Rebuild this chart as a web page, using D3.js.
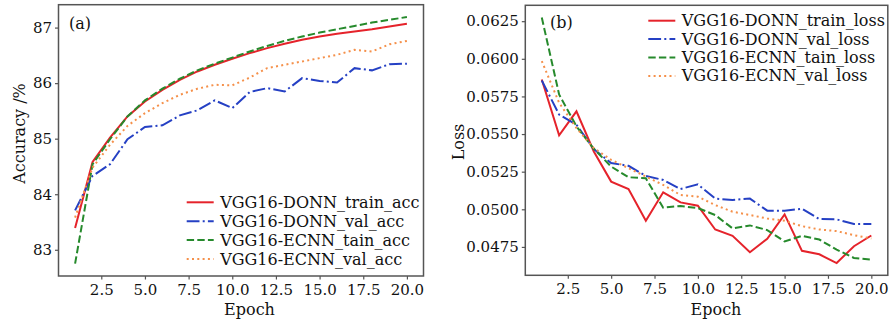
<!DOCTYPE html>
<html>
<head>
<meta charset="utf-8">
<script src="https://cdn.jsdelivr.net/npm/d3@7"></script>
<style>
  body { margin: 0; background: #fff; }
  svg text { font-family: "DejaVu Serif", serif; fill: #111; }
</style>
</head>
<body>
<div id="chart"></div>
<script>
(function () {
    'use strict';

    // data
    var epochs = d3.range(1, 21);
    var xTicks = [2.5, 5.0, 7.5, 10.0, 12.5, 15.0, 17.5, 20.0];

    var accNames = ["VGG16-DONN_train_acc", "VGG16-DONN_val_acc", "VGG16-ECNN_tain_acc", "VGG16-ECNN_val_acc"];
    var donnTrainAcc = [83.39, 84.58, 85.02, 85.40, 85.67, 85.88, 86.06, 86.21, 86.33, 86.44,
                        86.54, 86.63, 86.71, 86.78, 86.84, 86.89, 86.93, 86.97, 87.02, 87.07];
    var donnValAcc = [83.71, 84.33, 84.54, 84.99, 85.21, 85.24, 85.42, 85.51, 85.69, 85.55,
                      85.84, 85.91, 85.85, 86.09, 86.04, 86.01, 86.27, 86.23, 86.34, 86.35];
    var ecnnTrainAcc = [82.75, 84.54, 84.99, 85.40, 85.69, 85.90, 86.08, 86.23, 86.35, 86.46,
                        86.57, 86.67, 86.76, 86.84, 86.91, 86.97, 87.03, 87.09, 87.14, 87.19];
    var ecnnValAcc = [83.58, 84.48, 84.89, 85.23, 85.46, 85.64, 85.79, 85.90, 85.97, 85.96,
                      86.10, 86.27, 86.33, 86.39, 86.45, 86.51, 86.60, 86.57, 86.70, 86.76];
    var accTicks = [83, 84, 85, 86, 87];

    var lossNames = ["VGG16-DONN_train_loss", "VGG16-DONN_val_loss", "VGG16-ECNN_tain_loss", "VGG16-ECNN_val_loss"];
    var donnTrainLoss = [0.05863, 0.05491, 0.05651, 0.05384, 0.05184, 0.05135, 0.04924, 0.05113, 0.05046, 0.05024,
                         0.04866, 0.04824, 0.04715, 0.04804, 0.04966, 0.04724, 0.04701, 0.04643, 0.04755, 0.04826];
    var donnValLoss = [0.05856, 0.05629, 0.05562, 0.05400, 0.05307, 0.05289, 0.05222, 0.05195, 0.05135, 0.05166,
                       0.05071, 0.05062, 0.05071, 0.04991, 0.04991, 0.05004, 0.04935, 0.04933, 0.04902, 0.04902];
    var ecnnTrainLoss = [0.06274, 0.05763, 0.05551, 0.05402, 0.05284, 0.05213, 0.05206, 0.05011, 0.05022, 0.05008,
                         0.04962, 0.04873, 0.04893, 0.04862, 0.04786, 0.04824, 0.04799, 0.04732, 0.04677, 0.04666];
    var ecnnValLoss = [0.05985, 0.05707, 0.05540, 0.05407, 0.05329, 0.05273, 0.05218, 0.05162, 0.05095, 0.05084,
                       0.05028, 0.04984, 0.04962, 0.04939, 0.04924, 0.04888, 0.04866, 0.04855, 0.04828, 0.04806];
    var lossTicks = [0.0475, 0.0500, 0.0525, 0.0550, 0.0575, 0.0600, 0.0625];

    var colors = ["#e5232b", "#2540c4", "#268a2c", "#f5904a"];
    var dashes = [null, "12.8,3.2,2,3.2", "7.4,3.2", "2,3.3"];

    var svg = d3.select("#chart").append("svg")
        .attr("width", 889)
        .attr("height", 324);

    function padded(series) {
        var ext = d3.extent(d3.merge(series));
        var m = (ext[1] - ext[0]) * 0.05;
        return [ext[0] - m, ext[1] + m];
    }

    function panel(opt) {
        var xExt = d3.extent(epochs), xm = (xExt[1] - xExt[0]) * 0.05;
        var x = d3.scaleLinear().domain([xExt[0] - xm, xExt[1] + xm]).range([opt.left, opt.right]);
        var y = d3.scaleLinear().domain(padded(opt.series)).range([opt.bottom, opt.top]);

        var g = svg.append("g");

        var line = d3.line()
            .x(function (d, i) { return x(epochs[i]); })
            .y(function (d) { return y(d); });

        opt.series.forEach(function (s, i) {
            g.append("path")
                .datum(s)
                .attr("d", line)
                .attr("fill", "none")
                .attr("stroke", colors[i])
                .attr("stroke-width", 2)
                .attr("stroke-dasharray", dashes[i]);
        });

        // axes
        var xAxis = g.append("g").attr("transform", "translate(0," + opt.bottom + ")")
            .call(d3.axisBottom(x).tickValues(xTicks).tickFormat(d3.format(".1f")).tickSize(3.5).tickPadding(5));
        var yAxis = g.append("g").attr("transform", "translate(" + opt.left + ",0)")
            .call(d3.axisLeft(y).tickValues(opt.yTicks).tickFormat(d3.format(opt.yFmt)).tickSize(3.5).tickPadding(3));
        [xAxis, yAxis].forEach(function (a) {
            a.select(".domain").remove();
            a.selectAll("line").attr("stroke", "#555").attr("stroke-width", 1.2);
            a.selectAll("text").style("font-family", "DejaVu Serif").style("font-size", "15px").attr("fill", "#111");
        });

        g.append("rect")
            .attr("x", opt.left).attr("y", opt.top)
            .attr("width", opt.right - opt.left).attr("height", opt.bottom - opt.top)
            .attr("fill", "none").attr("stroke", "#555").attr("stroke-width", 1.5);

        g.append("text").attr("x", opt.xLabelX).attr("y", 314.5)
            .attr("text-anchor", "middle").style("font-size", "16px").text("Epoch");
        g.append("text")
            .attr("transform", "translate(" + opt.yLabelX + "," + opt.yLabelY + ") rotate(-90)")
            .attr("text-anchor", "middle").style("font-size", "16px").text(opt.yLabel);

        g.append("text").attr("x", opt.tagX).attr("y", opt.tagY)
            .style("font-size", "16px").text(opt.tag);

        // legend
        var leg = g.append("g").selectAll("g").data(opt.names).enter().append("g")
            .attr("transform", function (d, i) { return "translate(" + opt.legX + "," + (opt.legY + i * opt.legStep) + ")"; });
        leg.append("line")
            .attr("x1", 0).attr("x2", 27)
            .attr("stroke", function (d, i) { return colors[i]; })
            .attr("stroke-width", 2)
            .attr("stroke-dasharray", function (d, i) { return dashes[i]; });
        leg.append("text").attr("x", 33.5).attr("y", 5.5)
            .style("font-size", "16px").text(function (d) { return d; });
    }

    panel({
        left: 58.5, right: 423.5, top: 4.7, bottom: 276,
        series: [donnTrainAcc, donnValAcc, ecnnTrainAcc, ecnnValAcc],
        names: accNames, yTicks: accTicks, yFmt: "d",
        yLabel: "Accuracy /%", yLabelX: 25, yLabelY: 133.5, xLabelX: 249.5,
        tag: "(a)", tagX: 69, tagY: 28.5,
        legX: 186.7, legY: 202.3, legStep: 18.9
    });

    panel({
        left: 525.3, right: 887.8, top: 5.3, bottom: 275.3,
        series: [donnTrainLoss, donnValLoss, ecnnTrainLoss, ecnnValLoss],
        names: lossNames, yTicks: lossTicks, yFmt: ".4f",
        yLabel: "Loss", yLabelX: 463.5, yLabelY: 142, xLabelX: 716,
        tag: "(b)", tagX: 550, tagY: 27.5,
        legX: 648.3, legY: 20.7, legStep: 18.4
    });
})();
</script>
</body>
</html>
